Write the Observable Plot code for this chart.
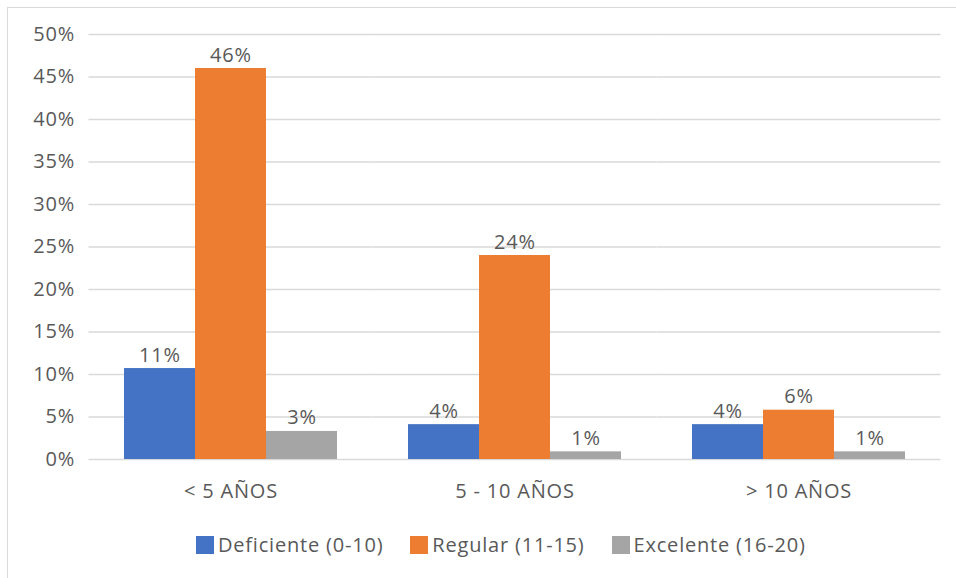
<!DOCTYPE html>
<html>
<head>
<meta charset="utf-8">
<script src="https://cdn.jsdelivr.net/npm/d3@7"></script>
<script src="https://cdn.jsdelivr.net/npm/@observablehq/plot@0.6"></script>
<style>
  html, body { margin: 0; padding: 0; background: #fff; }
  #wrap { position: relative; width: 956px; height: 578px; overflow: hidden; font-family: "Open Sans", sans-serif; }
  #frame { position: absolute; left: 7px; top: 7px; width: 960px; height: 580px; border-top: 1px solid #d9d9d9; border-left: 1px solid #d9d9d9; box-sizing: border-box; }
  #chart { position: absolute; left: 0; top: 0; }
  #chart svg text { letter-spacing: 0.8px; }
  #legend { position: absolute; left: 196px; top: 531px; display: flex; align-items: center; font-size: 20px; letter-spacing: 0.8px; color: #595959; white-space: nowrap; }
  .item { display: flex; align-items: center; margin-right: 27px; }
  .sw { width: 18px; height: 18px; margin-right: 4px; display: inline-block; }
</style>
</head>
<body>
<div id="wrap">
  <div id="frame"></div>
  <div id="chart"></div>
  <div id="legend"></div>
</div>
<script>
const categories = ["< 5 AÑOS", "5 - 10 AÑOS", "> 10 AÑOS"];
const series = ["Deficiente (0-10)", "Regular (11-15)", "Excelente (16-20)"];
const deficiente = [0.107, 0.041, 0.041];
const regular = [0.460, 0.240, 0.058];
const excelente = [0.033, 0.009, 0.009];
const colors = ["#4472C4", "#ED7D31", "#A5A5A5"];
const yTicks = [0, 0.05, 0.10, 0.15, 0.20, 0.25, 0.30, 0.35, 0.40, 0.45, 0.50];

const seriesValues = [deficiente, regular, excelente];
const data = [];
categories.forEach((c, i) => {
  series.forEach((s, j) => {
    data.push({category: c, series: s, value: seriesValues[j][i]});
  });
});

const fmt = d3.format(".0%");

const W = 956, ML = 88, MR = 16;
const stepW = (W - ML - MR) / categories.length;
const gap = -stepW * 0.125;

const chart = Plot.plot({
  width: W,
  height: 510,
  marginLeft: ML,
  marginRight: MR,
  marginTop: 34,
  marginBottom: 51,
  style: {fontFamily: "'Open Sans', sans-serif", fontSize: "20px", color: "#595959", background: "transparent"},
  fx: {domain: categories, paddingInner: 0.25, paddingOuter: 0.125, label: null},
  x: {domain: series, padding: 0, axis: null},
  y: {domain: [0, 0.5], label: null},
  color: {domain: series, range: colors},
  marks: [
    Plot.ruleY(yTicks, {y: d => d, stroke: "#d9d9d9", strokeWidth: 1.3, insetLeft: gap, insetRight: gap}),
    Plot.axisY({ticks: yTicks, tickFormat: d3.format(".0%"), tickSize: 0, tickPadding: 14 - gap, fill: "#595959", fontSize: 20}),
    Plot.axisFx({anchor: "bottom", tickSize: 0, tickPadding: 24, fill: "#595959", fontSize: 20, label: null}),
    Plot.barY(data, {fx: "category", x: "series", y: "value", fill: "series", insetLeft: 0, insetRight: 0}),
    Plot.text(data, {fx: "category", x: "series", y: "value", text: d => fmt(d.value), dy: -7, lineAnchor: "bottom", fill: "#595959", fontSize: 20})
  ]
});
document.getElementById("chart").appendChild(chart);

const legend = document.getElementById("legend");
series.forEach((s, j) => {
  const item = document.createElement("div");
  item.className = "item";
  const sw = document.createElement("span");
  sw.className = "sw";
  sw.style.background = colors[j];
  const t = document.createElement("span");
  t.textContent = s;
  item.appendChild(sw);
  item.appendChild(t);
  legend.appendChild(item);
});
</script>
</body>
</html>
